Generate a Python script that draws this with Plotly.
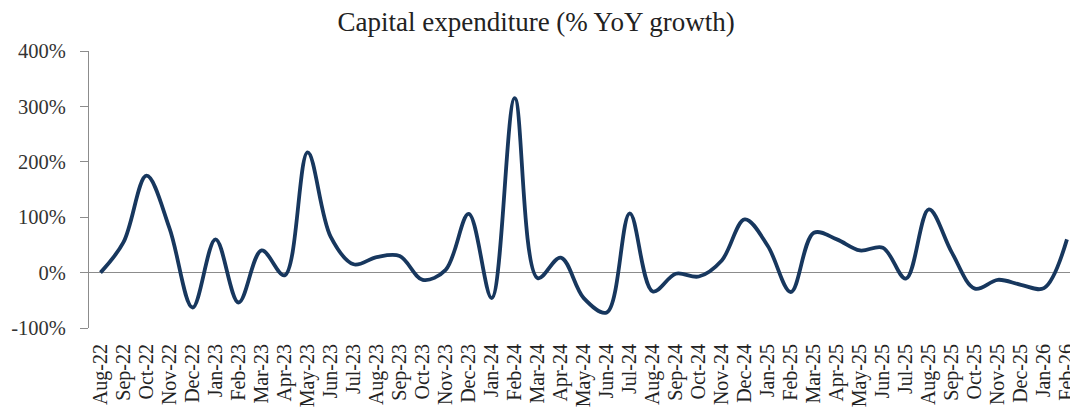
import plotly.graph_objects as go

months = ["Aug-22", "Sep-22", "Oct-22", "Nov-22", "Dec-22", "Jan-23", "Feb-23", "Mar-23",
          "Apr-23", "May-23", "Jun-23", "Jul-23", "Aug-23", "Sep-23", "Oct-23", "Nov-23",
          "Dec-23", "Jan-24", "Feb-24", "Mar-24", "Apr-24", "May-24", "Jun-24", "Jul-24",
          "Aug-24", "Sep-24", "Oct-24", "Nov-24", "Dec-24", "Jan-25", "Feb-25", "Mar-25",
          "Apr-25", "May-25", "Jun-25", "Jul-25", "Aug-25", "Sep-25", "Oct-25", "Nov-25",
          "Dec-25", "Jan-26", "Feb-26"]
capex_yoy = [0, 55, 175, 80, -63, 60, -54, 40,
             -5, 217, 65, 15, 28, 30, -13, 5,
             106, -46, 315, -10, 27, -46, -72, 107,
             -34, -2, -7, 22, 96, 48, -35, 72,
             60, 40, 45, -11, 114, 36, -29, -13,
             -22, -28, 60]
y_ticks = [-100, 0, 100, 200, 300, 400]
y_tick_labels = ["-100%", "0%", "100%", "200%", "300%", "400%"]

FONT = "Liberation Serif"
GRAY = "#8c8c8c"

fig = go.Figure()
fig.add_trace(go.Scatter(
    x=months, y=capex_yoy, mode="lines",
    line=dict(color="#17375e", width=3.8, shape="spline", smoothing=1.0),
    hoverinfo="skip", showlegend=False,
))

# page body has an 8px margin, so the figure is sized to fit the window
fig.update_layout(
    width=1070, height=408,
    margin=dict(l=81, r=0, t=43, b=88),
    paper_bgcolor="white", plot_bgcolor="white",
    font=dict(family=FONT, size=20, color="#333333"),
    title=dict(text="Capital expenditure (% YoY growth)", x=0.4935, xref="container",
               xanchor="center", y=0.966, yanchor="middle", yref="container",
               font=dict(family=FONT, size=27, color="#222222")),
)
fig.update_xaxes(
    type="category", tickmode="array", tickvals=months, ticktext=months,
    tickangle=-90, showgrid=False, showline=False, ticks="",
    range=[-0.5, 42.48], ticklabelstandoff=11, automargin=False,
    tickfont=dict(family=FONT, size=20, color="#222222"),
)
fig.update_yaxes(
    range=[-100, 400], tickmode="array", tickvals=y_ticks, ticktext=y_tick_labels,
    showgrid=False, automargin=False,
    showline=True, linecolor=GRAY, linewidth=1, ticks="outside", ticklen=8,
    tickcolor=GRAY, zeroline=True, zerolinecolor=GRAY, zerolinewidth=1,
    ticklabelstandoff=10,
    tickfont=dict(family=FONT, size=20.5, color="#333333"),
)

fig.write_html("out.html")
